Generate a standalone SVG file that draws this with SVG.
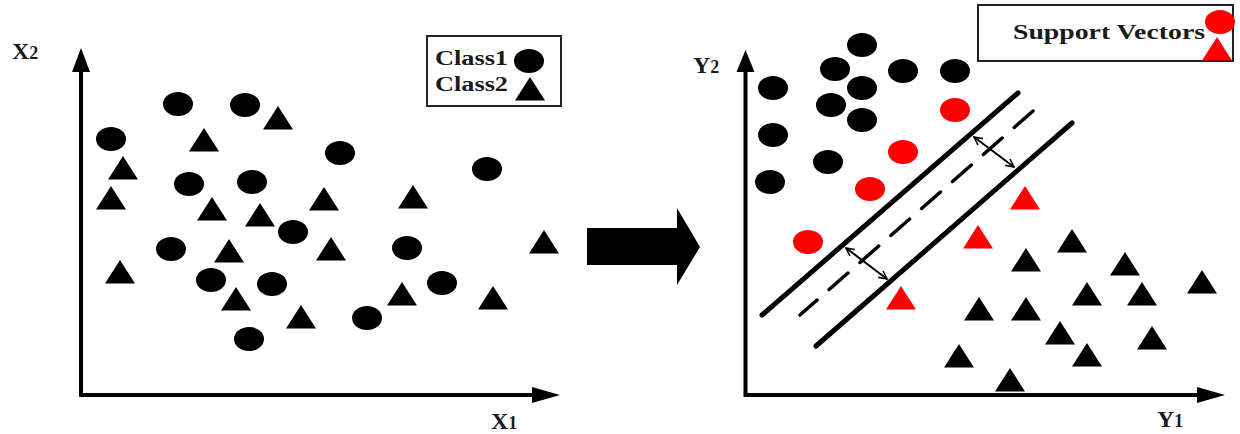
<svg xmlns="http://www.w3.org/2000/svg" width="1240" height="434" viewBox="0 0 1240 434">
<style>
.axis{stroke:#000;stroke-width:4;fill:none}
.lbl{font-family:"Liberation Serif",serif;font-weight:bold;fill:#1a1a1a}
.box{fill:#fff;stroke:#222;stroke-width:2}
.sv{stroke:#000;stroke-width:5;stroke-linecap:round;fill:none}
.mid{stroke:#000;stroke-width:3.5;stroke-linecap:round;fill:none;stroke-dasharray:25 16}
.marg{stroke:#000;stroke-width:2;fill:none;marker-start:url(#mh);marker-end:url(#mh)}
.b{fill:#000}
.r{fill:#ff0000}
</style>
<defs>
<ellipse id="c" cx="0" cy="0" rx="15" ry="12"/>
<path id="t" d="M0,0 L15,23.5 L-15,23.5 Z"/>
<marker id="mh" viewBox="0 0 10 10" refX="9" refY="5" markerWidth="5" markerHeight="5" orient="auto-start-reverse" markerUnits="strokeWidth">
<path d="M1,1 L9,5 L1,9" fill="none" stroke="#000" stroke-width="1.6" stroke-linejoin="miter"/>
</marker>
</defs>
<rect width="1240" height="434" fill="#fff"/>

<g id="left-axes">
<path class="axis" d="M81,68 V395 H536"/>
<path d="M72,72 L81,48 L90,72 Z" fill="#000"/>
<path d="M532,387 L560,395 L532,403 Z" fill="#000"/>
<text class="lbl" x="12" y="59" font-size="24">X<tspan font-size="18">2</tspan></text>
<text class="lbl" x="491" y="429" font-size="24">X<tspan font-size="18">1</tspan></text>
</g>

<g id="left-legend">
<rect class="box" x="427" y="36" width="134" height="70"/>
<text class="lbl" x="435" y="65" font-size="20" textLength="73" lengthAdjust="spacingAndGlyphs">Class1</text>
<text class="lbl" x="435" y="91" font-size="20" textLength="73" lengthAdjust="spacingAndGlyphs">Class2</text>
<use href="#c" x="529" y="61" class="b"/>
<use href="#t" x="530" y="77" class="b"/>
</g>

<g id="left-class1" class="b">
<use href="#c" x="178" y="104"/><use href="#c" x="245" y="105"/><use href="#c" x="111" y="139"/>
<use href="#c" x="189" y="184"/><use href="#c" x="252" y="182"/><use href="#c" x="293" y="232"/>
<use href="#c" x="340" y="153"/><use href="#c" x="487" y="169"/><use href="#c" x="171" y="249"/>
<use href="#c" x="211" y="280"/><use href="#c" x="272" y="284"/><use href="#c" x="407" y="248"/>
<use href="#c" x="442" y="283"/><use href="#c" x="367" y="318"/><use href="#c" x="249" y="339"/>
</g>
<g id="left-class2" class="b">
<use href="#t" x="278" y="106"/><use href="#t" x="204" y="128"/><use href="#t" x="123" y="156"/>
<use href="#t" x="111" y="186"/><use href="#t" x="212" y="197"/><use href="#t" x="260" y="203"/>
<use href="#t" x="324" y="187"/><use href="#t" x="413" y="185"/><use href="#t" x="229" y="239"/>
<use href="#t" x="120" y="260"/><use href="#t" x="331" y="237"/><use href="#t" x="544" y="230"/>
<use href="#t" x="236" y="287"/><use href="#t" x="402" y="282"/><use href="#t" x="493" y="286"/>
<use href="#t" x="301" y="305"/>
</g>

<g id="transform-arrow">
<path d="M587,228 H677 V208 L700,247 L677,285 V265 H587 Z" fill="#000"/>
</g>

<g id="right-axes">
<path class="axis" d="M745.5,68 V395 H1200"/>
<path d="M736.5,72 L745.5,50 L754.5,72 Z" fill="#000"/>
<path d="M1197,387 L1225,395 L1197,403 Z" fill="#000"/>
<text class="lbl" x="693" y="73" font-size="24">Y<tspan font-size="18">2</tspan></text>
<text class="lbl" x="1157" y="427" font-size="24">Y<tspan font-size="18">1</tspan></text>
</g>

<g id="right-legend">
<rect class="box" x="978" y="5" width="255" height="56"/>
<text class="lbl" x="1013" y="39" font-size="22" textLength="192" lengthAdjust="spacingAndGlyphs">Support Vectors</text>
<use href="#c" x="1220" y="22" class="r"/>
<use href="#t" x="1217" y="37" class="r"/>
</g>

<g id="connectors">
<line class="sv" x1="762" y1="315" x2="1018" y2="93"/>
<line class="sv" x1="816" y1="346" x2="1072" y2="123"/>
<path class="mid" d="M1033,111 L800,315"/>
<line class="marg" x1="846" y1="248" x2="887" y2="279"/>
<line class="marg" x1="974" y1="137" x2="1014" y2="167"/>
</g>

<g id="right-class1" class="b">
<use href="#c" x="862" y="45"/><use href="#c" x="835" y="69"/><use href="#c" x="903" y="71"/>
<use href="#c" x="955" y="71"/><use href="#c" x="773" y="88"/><use href="#c" x="862" y="88"/>
<use href="#c" x="831" y="105"/><use href="#c" x="862" y="120"/><use href="#c" x="773" y="135"/>
<use href="#c" x="828" y="162"/><use href="#c" x="770" y="182"/>
</g>
<g id="right-support-vectors" class="r">
<use href="#c" x="955" y="110"/><use href="#c" x="903" y="152"/><use href="#c" x="870" y="189"/>
<use href="#c" x="808" y="242"/>
<use href="#t" x="1025" y="186"/><use href="#t" x="978" y="225"/><use href="#t" x="901" y="286"/>
</g>
<g id="right-class2" class="b">
<use href="#t" x="1072" y="229"/><use href="#t" x="1026" y="248"/><use href="#t" x="1125" y="252"/>
<use href="#t" x="1202" y="270"/><use href="#t" x="1087" y="282"/><use href="#t" x="1142" y="282"/>
<use href="#t" x="979" y="297"/><use href="#t" x="1026" y="297"/><use href="#t" x="1060" y="321"/>
<use href="#t" x="1152" y="326"/><use href="#t" x="1087" y="343"/><use href="#t" x="959" y="344"/>
<use href="#t" x="1010" y="368"/>
</g>
</svg>
